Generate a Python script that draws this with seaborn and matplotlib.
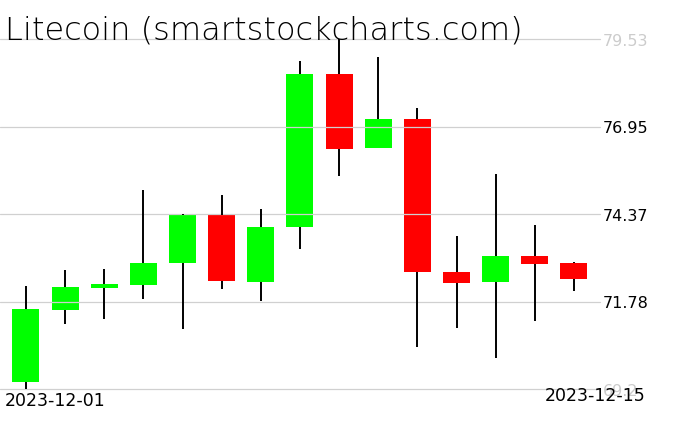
import matplotlib
matplotlib.use('Agg')
import matplotlib.pyplot as plt
import seaborn as sns
import pandas as pd
import numpy as np

sns.set_theme(style='white')
plt.rcParams['font.family'] = ['DejaVu Sans']

# daily OHLC
dates = pd.date_range('2023-12-01', '2023-12-15', freq='D')
opens = [69.42, 71.54, 72.19, 72.28, 72.92, 74.34, 72.36, 73.99, 78.50, 76.32, 77.17, 72.65, 72.37, 73.13, 72.92]
highs = [72.24, 72.71, 72.74, 75.08, 74.36, 74.93, 74.51, 78.88, 79.53, 79.00, 77.50, 73.72, 75.55, 74.04, 72.95]
lows = [69.20, 71.13, 71.28, 71.87, 70.97, 72.16, 71.80, 73.32, 75.50, 76.30, 70.45, 71.01, 70.12, 71.22, 72.10]
closes = [71.56, 72.21, 72.30, 72.92, 74.34, 72.40, 73.98, 78.50, 76.29, 77.17, 72.66, 72.34, 73.13, 72.90, 72.46]

df = pd.DataFrame({'date': dates, 'open': opens, 'high': highs, 'low': lows, 'close': closes})
df['x'] = np.arange(len(df))
df['top'] = df[['open', 'close']].max(axis=1)
df['bot'] = df[['open', 'close']].min(axis=1)
df['up'] = df['close'] >= df['open']
df['color'] = np.where(df['up'], '#00ff00', '#ff0000')

W, H = 676, 431
fig = plt.figure(figsize=(W / 100, H / 100), dpi=100)
fig.patch.set_facecolor('white')
ax = fig.add_axes([0, 1 - 390 / H, 600 / W, 350 / H])
ax.set_facecolor('white')

# bodies
ax.bar(df['x'], df['top'] - df['bot'], bottom=df['bot'], width=0.69,
       color=df['color'], edgecolor='none', zorder=1)
# wicks, above and below the body
ax.vlines(df['x'], df['top'], df['high'], color='black', lw=1.4, zorder=3, clip_on=False)
ax.vlines(df['x'], df['low'], df['bot'], color='black', lw=1.4, zorder=3, clip_on=False)

ymin, ymax = df['low'].min(), df['high'].max()
ticks = np.linspace(ymin, ymax, 5)
ax.set_ylim(ymin, ymax)
ax.set_xlim(-0.664, 14.666)
ax.set_yticks(ticks)
ax.set_yticklabels([f'{t:.2f}'.rstrip('0').rstrip('.') for t in ticks], fontsize=11.5)
ax.yaxis.tick_right()
ax.tick_params(axis='y', length=0, pad=2)
ax.set_xticks([])
for i, lab in enumerate(ax.get_yticklabels()):
    lab.set_color('#cccccc' if i in (0, len(ticks) - 1) else 'black')

ax.set_axisbelow(False)
ax.yaxis.grid(True, color='#d0d0d0', lw=0.9, linestyle='-')
ax.xaxis.grid(False)
for gl in ax.get_ygridlines():
    gl.set_clip_on(False)
for s in ax.spines.values():
    s.set_visible(False)

fig.text(5 / W, 1 - 39 / H, 'Litecoin (smartstockcharts.com)', fontsize=23,
         fontweight='light', ha='left', va='baseline', color='black')
fig.text(5 / W, 1 - 406 / H, df['date'].iloc[0].strftime('%Y-%m-%d'), fontsize=12.5,
         ha='left', va='baseline', color='black')
fig.text(645 / W, 1 - 401 / H, df['date'].iloc[-1].strftime('%Y-%m-%d'), fontsize=12.5,
         ha='right', va='baseline', color='black')

fig.savefig('out.png', dpi=100, facecolor='white')
plt.close(fig)
